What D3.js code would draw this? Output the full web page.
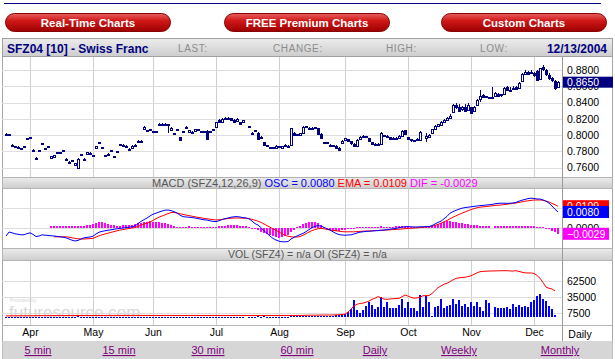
<!DOCTYPE html>
<html><head><meta charset="utf-8">
<script src="https://cdn.jsdelivr.net/npm/d3@7/dist/d3.min.js"></script>
<style>
html,body{margin:0;padding:0;background:#fff;}
svg{display:block;font-family:"Liberation Sans",Arial,sans-serif;}
</style></head><body>
<svg id="chart" width="615" height="359"></svg>
<script>
// ---------------- DATA ----------------
const months = ["Apr","May","Jun","Jul","Aug","Sep","Oct","Nov","Dec"];
const monthStartDay = [8,29,49,70,91,113,134,155,176]; // trading-day index of first session of each month
const priceTicks = [0.76,0.78,0.80,0.82,0.84,0.86,0.88];
const lastPrice = 0.8650;
const volumeTicks = [7500,35000,62500];
const macdLabels = [0.0109, 0.0080, 0.0000, -0.0029]; // EMA, OSC, zero, DIF
const links = ["5 min","15 min","30 min","60 min","Daily","Weekly","Monthly"];
const buttons = ["Real-Time Charts","FREE Premium Charts","Custom Charts"];

// daily [open, high, low, close], null = no trade
const ohlc = [
[.8015,.8020,.8005,.8010],[.8010,.8015,.8000,.8005],[.7880,.7885,.7860,.7865],[.7865,.7870,.7850,.7855],[.7855,.7860,.7840,.7845],[.7840,.7845,.7825,.7830],[.7860,.7865,.7845,.7850],[.7960,.7965,.7945,.7950],[.7970,.7975,.7955,.7960],[.7820,.7825,.7805,.7810],
[.7720,.7725,.7705,.7710],[.7810,.7815,.7795,.7800],[.7900,.7905,.7885,.7890],[.7840,.7845,.7825,.7830],[.7860,.7865,.7845,.7850],[.7720,.7745,.7715,.7740],[.7730,.7760,.7725,.7755],[.7790,.7795,.7775,.7780],[.7790,.7795,.7775,.7780],[.7810,.7815,.7795,.7800],
[.7710,.7715,.7695,.7700],[.7670,.7675,.7655,.7660],[.7690,.7695,.7675,.7680],[.7630,.7655,.7625,.7650],[.7595,.7715,.7590,.7710],[.7760,.7765,.7745,.7750],[.7710,.7715,.7695,.7700],[.7760,.7795,.7755,.7790],[.7780,.7785,.7765,.7770],[.7750,.7755,.7735,.7740],
[.7835,.7865,.7830,.7860],[.7910,.7915,.7895,.7900],[.7850,.7855,.7835,.7840],[.7750,.7755,.7735,.7740],[.7770,.7775,.7755,.7760],[.7810,.7815,.7795,.7800],[.7740,.7745,.7725,.7730],[.7800,.7805,.7785,.7790],[.7890,.7895,.7875,.7880],[.7880,.7885,.7865,.7870],
[.7870,.7875,.7855,.7860],[.7830,.7835,.7815,.7820],[.7845,.7875,.7840,.7870],[.7880,.7885,.7865,.7870],[.7930,.7935,.7915,.7920],[.7930,.7935,.7915,.7920],[.8075,.8105,.8070,.8100],[.8060,.8065,.8045,.8050],[.8070,.8075,.8055,.8060],[.8050,.8055,.8035,.8040],
[.8050,.8055,.8035,.8040],[.8140,.8145,.8125,.8130],[.8140,.8145,.8125,.8130],[.8140,.8145,.8125,.8130],[.8135,.8140,.8020,.8125],[.8070,.8095,.8065,.8090],[.8020,.8025,.8005,.8010],[.8070,.8075,.8055,.8060],[.7975,.7980,.7925,.7935],[.8050,.8055,.8035,.8040],
[.8100,.8105,.8085,.8090],[.8040,.8065,.8035,.8060],[.8040,.8045,.8025,.8030],[.8050,.8075,.8045,.8070],[.8070,.8075,.8055,.8060],[.8050,.8055,.8035,.8040],[.8050,.8055,.8035,.8040],[.8055,.8060,.7945,.7955],[.8050,.8055,.8035,.8040],[.8070,.8075,.8055,.8060],
[.8100,.8165,.8095,.8160],[.8190,.8200,.8150,.8160],[.8165,.8210,.8160,.8200],[.8200,.8220,.8190,.8210],[.8215,.8225,.8195,.8205],[.8205,.8210,.8180,.8185],[.8190,.8195,.8160,.8170],[.8170,.8205,.8165,.8195],[.8160,.8165,.8130,.8140],[.8150,.8190,.8145,.8180],
null,[.8110,.8115,.8090,.8100],[.8030,.8035,.8010,.8020],[.8060,.8065,.8040,.8050],[.8030,.8035,.7945,.7960],[.7975,.7985,.7950,.7960],[.7910,.7915,.7860,.7870],[.7875,.7880,.7850,.7860],[.7850,.7855,.7830,.7840],[.7850,.7855,.7830,.7840],
[.7845,.7875,.7840,.7865],[.7860,.7865,.7840,.7850],[.7840,.7865,.7835,.7860],[.7880,.7885,.7860,.7870],[.7870,.7875,.7850,.7860],[.7870,.8085,.7865,.8080],[.8030,.8035,.7990,.8000],[.8010,.8015,.7990,.8000],[.7995,.8025,.7990,.8020],[.8030,.8105,.8025,.8100],
[.8105,.8110,.8090,.8100],[.8090,.8095,.8075,.8080],[.8090,.8095,.8075,.8080],[.8095,.8100,.8080,.8090],[.8085,.8090,.7995,.8010],[.8010,.8020,.7950,.7960],[.7915,.7920,.7890,.7900],[.7910,.7915,.7890,.7900],[.7880,.7890,.7860,.7870],[.7875,.7880,.7850,.7860],
[.7870,.7875,.7845,.7850],[.7845,.7850,.7810,.7820],[.7900,.7940,.7895,.7930],[.7935,.7965,.7930,.7960],[.7950,.7955,.7925,.7930],[.7920,.7925,.7880,.7890],[.7890,.7900,.7850,.7870],[.7870,.7945,.7865,.7940],[.7945,.7985,.7940,.7975],[.7990,.7995,.7970,.7980],
[.7985,.7990,.7965,.7975],[.7960,.7965,.7910,.7925],[.7910,.7915,.7880,.7890],[.7895,.7900,.7880,.7885],[.7895,.7900,.7870,.7880],[.7885,.8035,.7880,.8025],[.8000,.8005,.7975,.7985],[.7990,.7995,.7970,.7980],[.7970,.7975,.7940,.7950],[.7965,.7970,.7945,.7955],
[.7965,.7970,.7945,.7960],[.7960,.7995,.7955,.7990],[.7990,.8065,.7985,.8055],[.8060,.8065,.7995,.8005],[.7975,.7980,.7935,.7945],[.7945,.7950,.7920,.7930],[.7935,.7940,.7920,.7930],[.7940,.7960,.7930,.7950],[.7940,.8045,.7935,.8040],null,
[.7960,.8030,.7920,.7990],[.7985,.8010,.7980,.8005],[.8020,.8080,.8015,.8070],[.8075,.8125,.8070,.8115],[.8110,.8140,.8100,.8130],[.8130,.8175,.8120,.8165],[.8160,.8200,.8150,.8190],[.8190,.8225,.8180,.8210],[.8215,.8255,.8205,.8240],[.8280,.8380,.8270,.8370],
[.8370,.8390,.8320,.8340],[.8350,.8385,.8290,.8300],[.8310,.8355,.8300,.8340],[.8345,.8385,.8290,.8300],[.8310,.8390,.8300,.8370],[.8340,.8350,.8260,.8270],[.8300,.8360,.8290,.8350],[.8370,.8440,.8365,.8430],[.8440,.8555,.8410,.8480],[.8490,.8500,.8460,.8470],
[.8475,.8480,.8450,.8460],[.8465,.8470,.8445,.8455],[.8460,.8585,.8450,.8470],[.8480,.8530,.8475,.8520],[.8510,.8520,.8480,.8490],[.8500,.8510,.8470,.8485],[.8510,.8590,.8505,.8580],[.8585,.8600,.8540,.8550],[.8560,.8590,.8530,.8545],[.8580,.8600,.8560,.8580],
[.8590,.8600,.8555,.8570],[.8580,.8650,.8575,.8640],[.8660,.8760,.8655,.8750],[.8760,.8800,.8740,.8780],[.8780,.8790,.8740,.8760],[.8770,.8800,.8755,.8775],[.8765,.8780,.8720,.8740],[.8790,.8800,.8670,.8680],[.8690,.8830,.8685,.8820],[.8840,.8860,.8790,.8810],
[.8800,.8810,.8730,.8750],[.8740,.8760,.8680,.8700],[.8700,.8720,.8650,.8680],[.8670,.8680,.8550,.8580],[.8590,.8660,.8585,.8650]
];

// MACD (blue), signal EMA (red), histogram DIF (magenta)
const macdLine = [
-0.0040,-0.0020,-0.0024,-0.0029,-0.0031,-0.0034,-0.0034,-0.0028,-0.0024,-0.0032,
-0.0043,-0.0040,-0.0034,-0.0036,-0.0037,-0.0039,-0.0040,-0.0042,-0.0044,-0.0046,
-0.0049,-0.0055,-0.0061,-0.0065,-0.0062,-0.0055,-0.0049,-0.0047,-0.0045,-0.0041,
-0.0030,-0.0021,-0.0017,-0.0014,-0.0011,-0.0009,-0.0006,-0.0004,-0.0002,0.0000,
0.0002,0.0004,0.0006,0.0010,0.0022,0.0033,0.0042,0.0050,0.0060,0.0069,
0.0074,0.0080,0.0085,0.0089,0.0090,0.0087,0.0082,0.0075,0.0064,0.0057,
0.0055,0.0054,0.0052,0.0050,0.0047,0.0044,0.0041,0.0040,0.0036,0.0033,
0.0032,0.0036,0.0042,0.0047,0.0050,0.0054,0.0056,0.0057,0.0055,0.0052,
0.0050,0.0046,0.0035,0.0022,0.0015,0.0002,-0.0014,-0.0027,-0.0040,-0.0052,
-0.0060,-0.0066,-0.0069,-0.0069,-0.0068,-0.0055,-0.0047,-0.0040,-0.0033,-0.0027,
-0.0018,-0.0008,0.0002,0.0008,0.0012,0.0010,0.0003,-0.0004,-0.0010,-0.0019,
-0.0027,-0.0033,-0.0035,-0.0036,-0.0035,-0.0034,-0.0030,-0.0025,-0.0021,-0.0019,
-0.0017,-0.0016,-0.0015,-0.0014,-0.0013,-0.0011,-0.0010,-0.0008,-0.0006,-0.0004,
-0.0002,0.0001,0.0004,0.0006,0.0007,0.0006,0.0005,0.0005,0.0006,0.0006,
0.0007,0.0007,0.0012,0.0020,0.0028,0.0034,0.0046,0.0058,0.0074,0.0082,
0.0088,0.0094,0.0099,0.0102,0.0104,0.0106,0.0108,0.0110,0.0112,0.0113,
0.0115,0.0116,0.0118,0.0121,0.0123,0.0124,0.0124,0.0123,0.0124,0.0125,
0.0128,0.0134,0.0139,0.0143,0.0147,0.0149,0.0148,0.0145,0.0145,0.0140,
0.0134,0.0124,0.0110,0.0094,0.0080
];
const signalLine = [
null,null,null,null,null,null,null,null,null,null,
null,null,null,null,null,null,-0.0044,-0.0044,-0.0044,-0.0044,
-0.0044,-0.0046,-0.0049,-0.0052,-0.0054,-0.0055,-0.0055,-0.0054,-0.0053,-0.0052,
-0.0045,-0.0039,-0.0034,-0.0030,-0.0026,-0.0022,-0.0018,-0.0014,-0.0010,-0.0008,
-0.0005,-0.0002,0.0000,0.0003,0.0008,0.0014,0.0020,0.0024,0.0030,0.0038,
0.0047,0.0054,0.0060,0.0066,0.0072,0.0077,0.0078,0.0075,0.0071,0.0068,
0.0065,0.0062,0.0059,0.0056,0.0053,0.0051,0.0048,0.0046,0.0044,0.0042,
0.0040,0.0041,0.0043,0.0045,0.0047,0.0049,0.0050,0.0050,0.0050,0.0049,
0.0049,0.0047,0.0043,0.0039,0.0034,0.0028,0.0020,0.0012,0.0004,-0.0004,
-0.0012,-0.0020,-0.0028,-0.0037,-0.0041,-0.0044,-0.0045,-0.0045,-0.0043,-0.0036,
-0.0028,-0.0020,-0.0013,-0.0008,-0.0004,-0.0002,-0.0004,-0.0007,-0.0010,-0.0012,
-0.0014,-0.0016,-0.0018,-0.0019,-0.0019,-0.0019,-0.0019,-0.0018,-0.0017,-0.0016,
-0.0015,-0.0015,-0.0014,-0.0013,-0.0012,-0.0012,-0.0011,-0.0010,-0.0009,-0.0008,
-0.0007,-0.0006,-0.0005,-0.0003,-0.0002,-0.0001,0.0000,0.0001,0.0002,0.0004,
0.0005,0.0006,0.0009,0.0013,0.0018,0.0024,0.0031,0.0038,0.0046,0.0054,
0.0061,0.0068,0.0074,0.0080,0.0086,0.0092,0.0097,0.0101,0.0104,0.0106,
0.0107,0.0109,0.0111,0.0113,0.0114,0.0115,0.0117,0.0119,0.0121,0.0123,
0.0125,0.0128,0.0131,0.0134,0.0136,0.0138,0.0140,0.0140,0.0140,0.0139,
0.0135,0.0130,0.0123,0.0116,0.0109
];
const histogram = [
null,null,null,null,null,null,null,null,null,null,
null,null,null,null,null,0.0008,0.0008,0.0009,0.0009,0.0010,
0.0010,0.0010,0.0009,0.0010,0.0011,0.0012,0.0012,0.0013,0.0015,0.0018,
0.0025,0.0030,0.0029,0.0024,0.0019,0.0015,0.0013,0.0012,0.0012,0.0013,
0.0014,0.0015,0.0016,0.0019,0.0023,0.0027,0.0030,0.0032,0.0033,0.0032,
0.0030,0.0028,0.0026,0.0023,0.0019,0.0013,0.0008,0.0006,0.0005,0.0006,
0.0007,0.0008,0.0007,0.0006,0.0005,0.0005,0.0006,0.0004,0.0003,0.0003,
0.0005,0.0008,0.0010,0.0012,0.0013,0.0014,0.0014,0.0013,0.0011,0.0010,
0.0008,0.0005,0.0002,-0.0006,-0.0012,-0.0018,-0.0025,-0.0031,-0.0037,-0.0042,
-0.0046,-0.0048,-0.0046,-0.0041,-0.0034,-0.0022,-0.0012,0.0005,0.0012,0.0018,
0.0024,0.0028,0.0030,0.0029,0.0024,0.0016,0.0006,-0.0004,-0.0010,-0.0014,
-0.0016,-0.0015,-0.0012,-0.0008,-0.0005,-0.0003,0.0002,0.0004,0.0005,0.0006,
0.0006,0.0005,0.0006,0.0007,0.0006,0.0008,0.0007,0.0007,0.0006,0.0007,
0.0008,0.0008,0.0009,0.0009,0.0008,0.0007,0.0006,0.0006,0.0007,0.0007,
0.0008,0.0009,0.0012,0.0017,0.0022,0.0027,0.0031,0.0033,0.0033,0.0031,
0.0028,0.0026,0.0024,0.0022,0.0019,0.0016,0.0015,0.0013,0.0012,0.0011,
0.0010,0.0010,null,0.0010,0.0010,0.0009,0.0008,0.0009,0.0010,0.0010,
0.0009,0.0010,0.0011,0.0011,0.0010,0.0009,0.0008,0.0007,0.0006,0.0004,
0.0001,-0.0006,-0.0013,-0.0022,-0.0029
];

const volume = [
1500,1200,900,800,1000,700,900,1300,1100,800,
1500,900,1200,800,700,1000,1300,900,800,1100,
900,1200,800,1000,1600,900,800,1100,900,800,
1300,1000,900,1200,800,900,1100,800,1000,900,
800,1000,900,800,1200,1000,1400,1000,800,900,
800,1100,900,1000,1500,900,1000,800,1300,900,
1000,900,800,1100,900,800,900,1400,900,1000,
1500,1200,1300,1100,1000,1200,1300,1100,1200,1000,
null,1300,1500,1100,1600,1400,1700,1300,1200,1400,
1300,1200,1400,1300,1500,2200,1800,1600,1900,2400,
2100,2000,2300,2200,2800,3000,2600,2500,2700,3200,
3500,4200,5300,6000,9800,14000,29900,12700,7000,12700,
19600,27000,21300,13900,18400,34500,18400,27000,16700,16700,
16700,21300,31600,16700,27000,15600,15600,11000,38500,18400,
37300,27000,2900,18400,19600,31100,15600,20000,21300,31100,
22500,29900,20000,22500,18400,27000,19600,26000,18400,11000,
29900,24000,null,18400,15600,16700,16700,18400,14500,23000,
18400,21300,18400,19600,17000,26000,29900,37300,40000,31600,
28000,20000,14500,4000,null
];
const openInterest = [
2600,2600,2700,2700,2700,2800,2800,2800,2900,2900,
2900,2900,3000,3000,3000,3000,3100,3100,3100,3100,
3100,3200,3200,3200,3200,3200,3300,3300,3300,3300,
3300,3300,3300,3300,3400,3400,3400,3400,3400,3400,
3400,3400,3400,3400,3400,3400,3300,3300,3300,3300,
3300,3300,3300,3300,3300,3300,3300,3300,3300,3300,
3300,3300,3300,3300,3300,3300,3300,3300,3300,3300,
3300,3300,3300,3300,3300,3300,3300,3300,3300,3300,
3300,3300,3300,3300,3300,3300,3300,3300,3300,3300,
3300,3300,3300,3300,3300,3300,3300,3400,3400,3400,
3600,3700,3800,3800,3900,4000,4000,4100,4100,4200,
4300,4600,5000,5600,9000,14000,20000,22500,24000,24500,
26000,28000,31000,33000,35600,34000,31500,31000,31600,32000,
32500,32800,35500,38500,36500,34500,33000,33500,34500,37300,
37300,37500,41000,46000,51000,54000,57000,58600,61500,64500,
67000,67800,68500,69000,70000,71500,74000,76500,78500,79000,
79300,79600,79700,79800,80000,80200,80200,80200,79800,79600,
80200,79000,77500,76500,76300,76300,75500,72000,67200,60000,
52000,50000,48800,45400,null
];

// ---------------- LAYOUT ----------------
const svg = d3.select("#chart");
const L = 2, R = 562, FR = 612;
const P = {top:57, bot:177};      // price panel
const MH = {top:177, bot:189};    // macd header
const M = {top:189, bot:248};     // macd panel
const VH = {top:248, bot:261};    // vol header
const V = {top:261, bot:325};     // vol panel

const x = d3.scaleLinear().domain([0, ohlc.length-1]).range([6, 558]);
const yP = d3.scaleLinear().domain([0.76,0.88]).range([167.5,70]);
const yM = d3.scaleLinear().domain([0,0.01]).range([228,208]);
const yV = d3.scaleLinear().domain([0,62500]).range([317.4,281]);

const defs = svg.append("defs");
const bg = defs.append("linearGradient").attr("id","btn").attr("x1",0).attr("y1",0).attr("x2",0).attr("y2",1);
bg.append("stop").attr("offset","0%").attr("stop-color","#e86060");
bg.append("stop").attr("offset","40%").attr("stop-color","#d01818");
bg.append("stop").attr("offset","100%").attr("stop-color","#9c0000");
const hg = defs.append("linearGradient").attr("id","hdr").attr("x1",0).attr("y1",0).attr("x2",0).attr("y2",1);
hg.append("stop").attr("offset","0%").attr("stop-color","#ececec");
hg.append("stop").attr("offset","100%").attr("stop-color","#cdcdcd");
[["cp",P],["cm",M],["cv",V]].forEach(([id,p])=>{
  defs.append("clipPath").attr("id",id).append("rect").attr("x",L).attr("y",p.top).attr("width",R-L).attr("height",p.bot-p.top);
});

// top rule
svg.append("line").attr("x1",4).attr("x2",601).attr("y1",3.5).attr("y2",3.5).attr("stroke","#000080").attr("stroke-width",1);

// buttons
const bx = [5,224,441];
buttons.forEach((t,i)=>{
  svg.append("rect").attr("x",bx[i]+0.5).attr("y",13.5).attr("width",165).attr("height",18).attr("rx",9)
    .attr("fill","url(#btn)").attr("stroke","#8a0000");
  svg.append("text").attr("x",bx[i]+83).attr("y",26.5).attr("text-anchor","middle")
    .attr("fill","#fff").attr("font-weight","bold").attr("font-size","11.5px").text(t);
});

// frame + header bar
svg.append("rect").attr("x",L+0.5).attr("y",38.5).attr("width",FR-L).attr("height",359-38).attr("fill","#fff").attr("stroke","#a8a8a8");
svg.append("rect").attr("x",L+0.5).attr("y",38.5).attr("width",FR-L).attr("height",18).attr("fill","url(#hdr)").attr("stroke","#a0a0a0");
svg.append("text").attr("x",7).attr("y",52.5).attr("font-weight","bold").attr("font-size","12px").attr("fill","#000080").text("SFZ04 [10] - Swiss Franc");
[["LAST:",178],["CHANGE:",273],["HIGH:",386],["LOW:",480]].forEach(([t,px])=>{
  svg.append("text").attr("x",px).attr("y",51.5).attr("font-size","10px").attr("letter-spacing","0.6px").attr("fill","#8c8c8c").text(t);
});
svg.append("text").attr("x",607).attr("y",52.5).attr("text-anchor","end").attr("font-weight","bold").attr("font-size","12px").attr("fill","#000080").text("12/13/2004");

// panel header bars
function headerBar(p){
  svg.append("rect").attr("x",L+0.5).attr("y",p.top+0.5).attr("width",FR-L).attr("height",p.bot-p.top-1)
    .attr("fill","url(#hdr)").attr("stroke","#b4b4b4");
}
headerBar(MH); headerBar(VH);

// grids
const grid = svg.append("g").attr("shape-rendering","crispEdges");
[P,M,V].forEach(p=>{
  grid.selectAll(null).data(monthStartDay).join("line")
    .attr("x1",d=>Math.round(x(d))+0.5).attr("x2",d=>Math.round(x(d))+0.5)
    .attr("y1",p.top).attr("y2",p.bot).attr("stroke","#cfcfcf");
});
grid.selectAll(null).data(priceTicks).join("line").attr("x1",L).attr("x2",R)
  .attr("y1",d=>Math.round(yP(d))+0.5).attr("y2",d=>Math.round(yP(d))+0.5).attr("stroke","#dddddd");
grid.selectAll(null).data([0.01,0]).join("line").attr("x1",L).attr("x2",R)
  .attr("y1",d=>Math.round(yM(d))+0.5).attr("y2",d=>Math.round(yM(d))+0.5).attr("stroke","#dddddd");
grid.selectAll(null).data(volumeTicks).join("line").attr("x1",L).attr("x2",R)
  .attr("y1",d=>Math.round(yV(d))+0.5).attr("y2",d=>Math.round(yV(d))+0.5).attr("stroke","#dddddd");
// panel separators
[P.bot, M.bot, V.bot].forEach(yy=>{
  grid.append("line").attr("x1",L).attr("x2",FR).attr("y1",yy+0.5).attr("y2",yy+0.5).attr("stroke","#b4b4b4");
});
grid.append("line").attr("x1",R+0.5).attr("x2",R+0.5).attr("y1",P.top).attr("y2",341).attr("stroke","#9a9a9a");

// watermark
svg.append("text").attr("x",10).attr("y",302).attr("font-size","5px").attr("fill","#d6d6d6").text("Provided by");
svg.append("text").attr("x",9).attr("y",318).attr("font-size","17px").attr("fill","#d8d8d8").text("futuresource.com");

// ---------------- PRICE ----------------
const gP = svg.append("g").attr("clip-path","url(#cp)").attr("shape-rendering","crispEdges");
const bars = ohlc.map((d,i)=>({d,i})).filter(e=>e.d);
const navy = "#000080";
gP.selectAll("line.w").data(bars).join("line")
  .attr("x1",e=>Math.round(x(e.i))+0.5).attr("x2",e=>Math.round(x(e.i))+0.5)
  .attr("y1",e=>yP(e.d[1])).attr("y2",e=>yP(e.d[2])).attr("stroke",navy);
gP.selectAll("rect.b").data(bars).join("rect")
  .attr("x",e=>Math.round(x(e.i))-0.5).attr("width",2)
  .attr("y",e=>Math.round(yP(Math.max(e.d[0],e.d[3])))+0.5)
  .attr("height",e=>Math.max(1,Math.round(Math.abs(yP(e.d[0])-yP(e.d[3])))))
  .attr("fill",e=>e.d[3]>=e.d[0]?"#fff":navy).attr("stroke",navy);

// price axis
const axP = svg.append("g").attr("transform",`translate(${R+1},0)`)
  .call(d3.axisRight(yP).tickValues(priceTicks).tickFormat(d3.format(".4f")).tickSize(0).tickPadding(4));
axP.select(".domain").remove();
axP.selectAll("text").attr("font-size","10.5px").attr("font-family","'Liberation Sans',Arial,sans-serif").attr("fill","#000");
svg.append("rect").attr("x",R+1).attr("y",yP(lastPrice)-5.5).attr("width",50).attr("height",11).attr("fill",navy);
svg.append("text").attr("x",R+5).attr("y",yP(lastPrice)+4).attr("font-size","10.5px").attr("fill","#fff").text(d3.format(".4f")(lastPrice));

// ---------------- MACD ----------------
const ht = svg.append("text").attr("x",152).attr("y",187).attr("font-size","11px");
[["MACD (SFZ4,12,26,9) ","#555"],["OSC = 0.0080 ","#0000ff"],["EMA = 0.0109 ","#ff0000"],["DIF = -0.0029","#ff00ff"]]
  .forEach(([t,c])=>ht.append("tspan").attr("fill",c).text(t));
const gM = svg.append("g").attr("clip-path","url(#cm)");
gM.append("g").attr("shape-rendering","crispEdges").selectAll("rect")
  .data(histogram.map((v,i)=>({v,i})).filter(e=>e.v!=null)).join("rect")
  .attr("x",e=>Math.round(x(e.i))-1).attr("width",2)
  .attr("y",e=>Math.min(yM(e.v),yM(0))).attr("height",e=>Math.max(1,Math.abs(yM(e.v)-yM(0))))
  .attr("fill","#ff00ff");
const lineM = d3.line().defined(d=>d!=null).x((d,i)=>x(i)).y(d=>yM(d));
gM.append("path").attr("d",lineM(signalLine)).attr("fill","none").attr("stroke","#ff0000").attr("stroke-width",1);
gM.append("path").attr("d",lineM(macdLine)).attr("fill","none").attr("stroke","#0000ff").attr("stroke-width",1);
// macd labels
const mlab = [
  {v:macdLabels[2], bg:null, fg:"#000"},
  {v:macdLabels[0], bg:"#ff0000", fg:"#fff"},
  {v:macdLabels[1], bg:"#0000ff", fg:"#fff"},
  {v:macdLabels[3], bg:"#ff00ff", fg:"#fff"}
];
mlab.forEach(m=>{
  const yy = yM(m.v);
  if(m.bg) svg.append("rect").attr("x",R+1).attr("y",yy-6).attr("width",46).attr("height",12).attr("fill",m.bg);
  svg.append("text").attr("x",R+5).attr("y",yy+4).attr("font-size","10.5px").attr("fill",m.fg).text(d3.format(".4f")(m.v));
});

// ---------------- VOLUME / OI ----------------
svg.append("text").attr("x",228).attr("y",258).attr("font-size","10.5px").attr("fill","#555").text("VOL (SFZ4) = n/a OI (SFZ4) = n/a");
const gV = svg.append("g").attr("clip-path","url(#cv)");
gV.append("g").attr("shape-rendering","crispEdges").selectAll("rect")
  .data(volume.map((v,i)=>({v,i})).filter(e=>e.v!=null)).join("rect")
  .attr("x",e=>Math.round(x(e.i))-1).attr("width",2)
  .attr("y",e=>yV(e.v)).attr("height",e=>Math.max(1,yV(0)-yV(e.v))).attr("fill","#0000ff");
gV.append("path").attr("d",d3.line().defined(d=>d!=null).x((d,i)=>x(i)).y(d=>yV(d))(openInterest))
  .attr("fill","none").attr("stroke","#ff0000").attr("stroke-width",1);
const axV = svg.append("g").attr("transform",`translate(${R+1},0)`)
  .call(d3.axisRight(yV).tickValues(volumeTicks).tickFormat(d3.format("d")).tickSize(0).tickPadding(4));
axV.select(".domain").remove();
axV.selectAll("text").attr("font-size","10.5px").attr("font-family","'Liberation Sans',Arial,sans-serif").attr("fill","#000");

// ---------------- MONTH AXIS ----------------
const axX = svg.append("g").attr("transform",`translate(0,${V.bot})`)
  .call(d3.axisBottom(x).tickValues(monthStartDay).tickFormat((d,i)=>months[i]).tickSize(0).tickPadding(4));
axX.select(".domain").remove();
axX.selectAll("text").attr("font-size","10.5px").attr("font-family","'Liberation Sans',Arial,sans-serif").attr("fill","#000");
svg.append("text").attr("x",580).attr("y",338).attr("text-anchor","middle").attr("font-size","10.5px").text("Daily");

// ---------------- LINKS ROW ----------------
svg.append("rect").attr("x",L+0.5).attr("y",341).attr("width",FR-L).attr("height",18).attr("fill","#d6d6d6");
const linkX = [38,119,208,297,375,459,560];
links.forEach((t,i)=>{
  svg.append("text").attr("x",linkX[i]).attr("y",354).attr("text-anchor","middle").attr("font-size","11px")
    .attr("fill","#800080").attr("text-decoration","underline").text(t);
});
</script>
</body></html>
